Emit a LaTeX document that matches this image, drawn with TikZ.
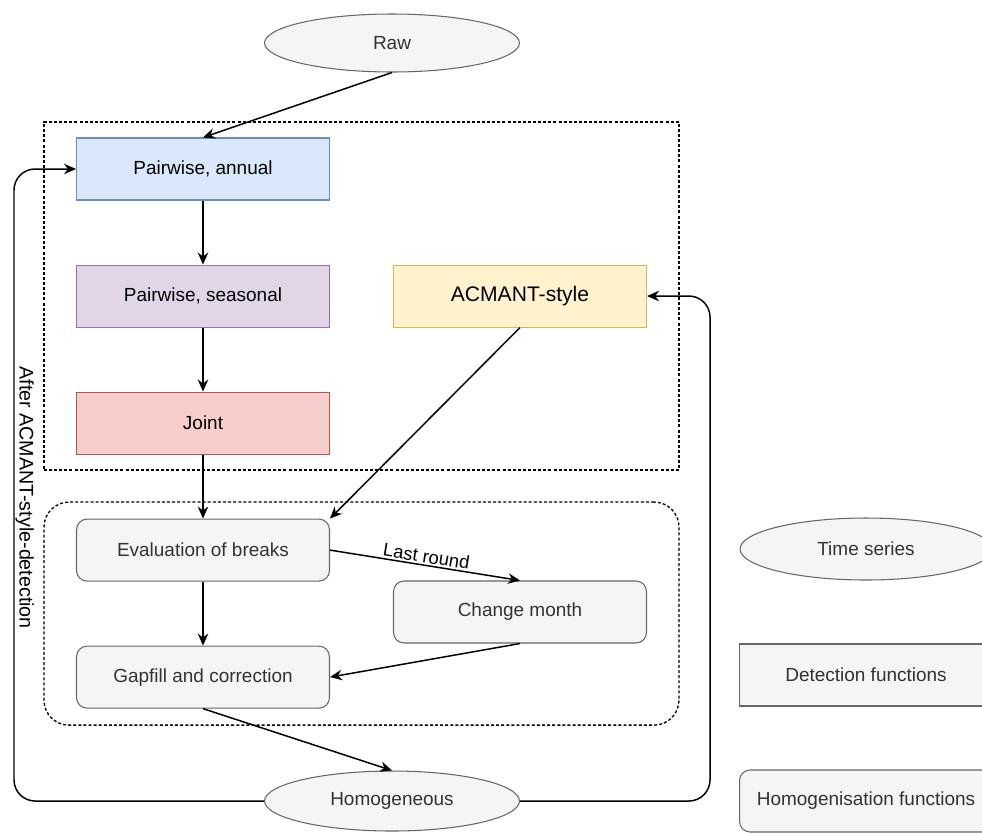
\documentclass[tikz,border=0pt]{standalone}
\usepackage{fontspec}
\setmainfont{Liberation Sans}
\usepackage{tikz}
\usetikzlibrary{arrows.meta, positioning, fit, shapes.geometric}

\definecolor{AnnualFill}{HTML}{DAE8FC}\definecolor{AnnualLine}{HTML}{6C8EBF}
\definecolor{SeasonFill}{HTML}{E1D5E7}\definecolor{SeasonLine}{HTML}{9673A6}
\definecolor{JointFill}{HTML}{F8CECC}\definecolor{JointLine}{HTML}{B85450}
\definecolor{AcmantFill}{HTML}{FFF2CC}\definecolor{AcmantLine}{HTML}{D6B656}
\definecolor{FuncFill}{HTML}{F5F5F5}\definecolor{FuncLine}{HTML}{666666}

\begin{document}
\begin{tikzpicture}[
    x=0.02cm, y=-0.02cm,
    node distance=1.28cm and 1.26cm, font=\fontsize{10.8}{13}\selectfont,
    box/.style={draw, align=center, minimum width=5.06cm, minimum height=1.24cm, inner sep=3pt, line width=0.6pt},
    fbox/.style={box, rounded corners=6pt, draw=FuncLine, fill=FuncFill, text=black!80},
    series/.style={ellipse, draw=FuncLine, fill=FuncFill, text=black!80, line width=0.6pt, minimum width=5.1cm, minimum height=1.16cm},
    group/.style={draw, dash pattern=on 1.7pt off 1.2pt, line width=0.75pt, inner xsep=0.64cm},
    >={Stealth[length=2.4mm, width=2.1mm]}]
\useasboundingbox (0,0) rectangle (982,832);
\node[series] (raw) at (392,43) {Raw};
\node[box, fill=AnnualFill, draw=AnnualLine] (annual) at (203,169) {Pairwise, annual};
\node[box, fill=SeasonFill, draw=SeasonLine, below=of annual] (seasonal) {Pairwise, seasonal};
\node[box, fill=JointFill, draw=JointLine, below=of seasonal] (joint) {Joint};
\node[box, fill=AcmantFill, draw=AcmantLine, right=of seasonal, font=\fontsize{12}{14}\selectfont] (acmant) {ACMANT-style};
\node[fbox, below=of joint] (eval) {Evaluation of breaks};
\node[fbox, below=of eval] (gap) {Gapfill and correction};
\node[fbox] (month) at (acmant |- 0,612) {Change month};
\node[series, minimum height=1.2cm] (homog) at (392,801) {Homogeneous};
% legend
\node[series, minimum width=5.04cm, minimum height=1.24cm] (tslegend) at (866,549) {Time series};
\node[box, draw=FuncLine, fill=FuncFill, text=black!80] (detlegend) at (866,675) {Detection functions};
\node[fbox] (homlegend) at (866,801) {Homogenisation functions};
% groups
\node[group, inner ysep=0.31cm, fit=(annual)(joint)(acmant)] (detgroup) {};
\node[group, inner ysep=0.33cm, rounded corners=0.5cm, fit=(eval)(gap)(month)] (homgroup) {};
\coordinate (lloop) at (14,0 |- annual.west);
\coordinate (rloop) at (710,0 |- acmant.east);
\begin{scope}[line width=0.85pt]
\draw[->] (raw.south) -- (annual.north);
\draw[->] (annual) -- (seasonal);
\draw[->] (seasonal) -- (joint);
\draw[->] (joint) -- (eval);
\draw[->] (acmant.south) -- (eval.north east);
\draw[->] (eval.east) -- node[sloped, above, inner sep=1pt, font=\fontsize{10.5}{12}\selectfont] (lastlbl) {Last round} (month.north);
\draw[->] (eval) -- (gap);
\draw[->] (month.south) -- (gap.east);
\draw[->] (gap.south) -- (homog.north);
\draw[->, rounded corners=12pt] (homog.west) -| node[pos=0.74, rotate=-90, anchor=south, inner sep=0.5pt, font=\fontsize{11.2}{13}\selectfont] (looplbl) {After ACMANT-style-detection} (lloop) -- (annual.west);
\draw[->, rounded corners=12pt] (homog.east) -| (rloop) -- (acmant.east);
\end{scope}
\end{tikzpicture}
\end{document}
